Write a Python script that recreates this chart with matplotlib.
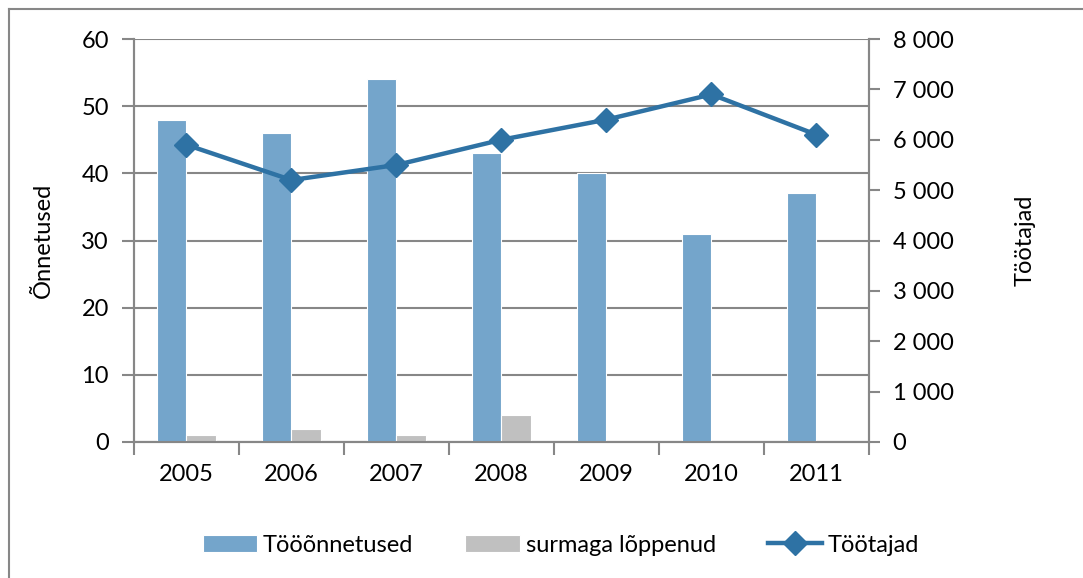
import numpy as np
import matplotlib.pyplot as plt
from matplotlib.lines import Line2D

plt.rcParams['font.family'] = ['Lato', 'DejaVu Sans']

years = ['2005', '2006', '2007', '2008', '2009', '2010', '2011']
accidents = [48, 46, 54, 43, 40, 31, 37]
fatal = [1, 2, 1, 4, 0, 0, 0]
workers = [5900, 5200, 5500, 6000, 6400, 6900, 6100]

blue = '#74a5cb'
grey = '#c0c0c0'
line_col = '#2e72a4'
axis_col = '#878787'

fig = plt.figure(figsize=(10.83, 5.78), dpi=100)
ax = fig.add_axes([0.1237, 0.2353, 0.6787, 0.6972])
ax2 = ax.twinx()

x = np.arange(len(years))
w = 0.28
ax.bar(x - w / 2, accidents, w, color=blue, edgecolor='white', linewidth=0.8,
       label='Tööõnnetused', zorder=3)
ax.bar(x + w / 2, fatal, w, color=grey, edgecolor='white', linewidth=0.8,
       label='surmaga lõppenud', zorder=3)
ax2.plot(x, workers, color=line_col, lw=3.2, marker='D', markersize=12,
         label='Töötajad', zorder=4)

ax.set_xlim(-0.5, len(years) - 0.5)
ax.set_ylim(0, 60)
ax.set_yticks(range(0, 61, 10))
ax2.set_ylim(0, 8000)
ax2.set_yticks(range(0, 8001, 1000))
ax2.set_yticklabels([f'{v:,}'.replace(',', ' ') for v in range(0, 8001, 1000)])

ax.yaxis.grid(True, color=axis_col, lw=1.5, zorder=0)
ax.set_axisbelow(True)

fs = 17
ax.set_xticks(x)
ax.set_xticklabels(years)
ax.set_xticks(np.arange(-0.5, len(years), 1), minor=True)
ax.tick_params(axis='x', which='major', length=0, pad=16, labelsize=fs)
ax.tick_params(axis='x', which='minor', length=9, width=1.5, color=axis_col, direction='out')
ax.tick_params(axis='y', length=9, width=1.5, color=axis_col, labelsize=fs, pad=9)
ax2.tick_params(axis='y', length=8, width=1.5, color=axis_col, labelsize=fs, pad=9)

for a in (ax, ax2):
    a.spines['top'].set_visible(False)
    for s in ('left', 'right', 'bottom'):
        a.spines[s].set_color(axis_col)
        a.spines[s].set_linewidth(1.5)

ax.set_ylabel('Õnnetused', fontsize=fs, labelpad=20)
ax2.set_ylabel('Töötajad', fontsize=fs, labelpad=44)

handles = [ax.patches[0], ax.patches[len(years)],
           Line2D([], [], color=line_col, lw=3.2, marker='D', markersize=12)]
labels = ['Tööõnnetused', 'surmaga lõppenud', 'Töötajad']
fig.legend(handles, labels, loc='center', bbox_to_anchor=(0.518, 0.057), ncol=3,
           frameon=False, fontsize=fs, handlelength=2.3, handletextpad=0.25,
           columnspacing=2.2)

# chart frame
fig.add_artist(Line2D([9 / 1083, 9 / 1083], [0, 1 - 9 / 578], color=axis_col,
                      lw=1.5, transform=fig.transFigure))
fig.add_artist(Line2D([9 / 1083, 1], [1 - 9 / 578, 1 - 9 / 578], color=axis_col,
                      lw=1.5, transform=fig.transFigure))

fig.savefig('out.png', dpi=100)
